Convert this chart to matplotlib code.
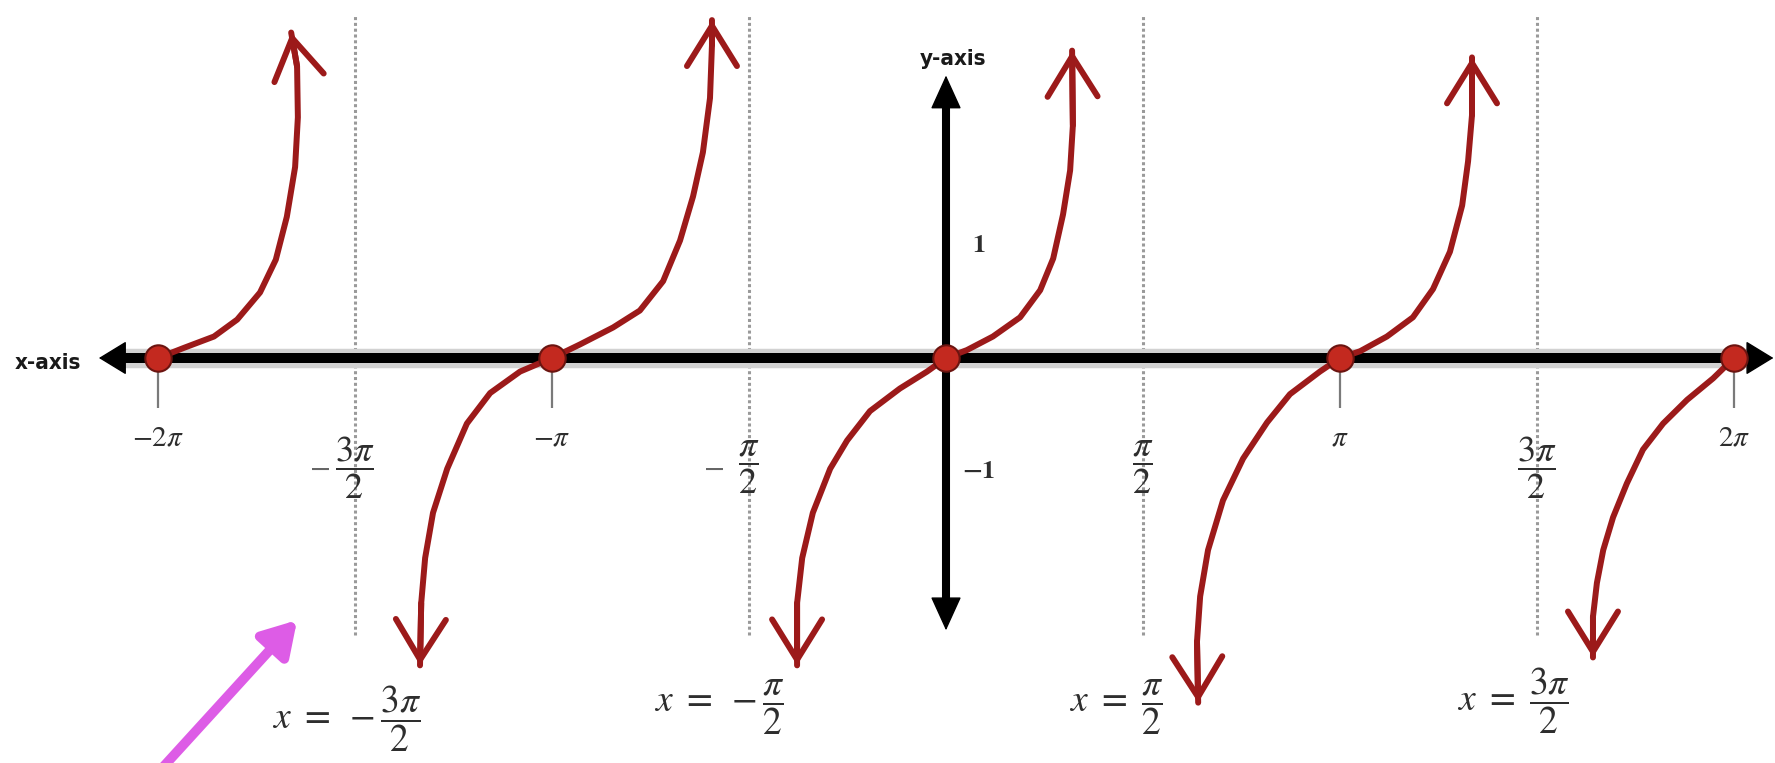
"""Graph of y = tan(x) on [-2pi, 2pi] with vertical asymptotes."""

import matplotlib

matplotlib.use("Agg")
import matplotlib.pyplot as plt
import numpy as np

plt.rcParams["mathtext.fontset"] = "stix"
plt.rcParams["font.family"] = ["Liberation Sans Narrow", "DejaVu Sans"]

# zeros of tan(x), x in multiples of pi
ZEROS_PI = [-2, -1, 0, 1, 2]
TICKS_PI = [-2, -1, 1, 2]
TICK_LABELS = [r"$-2\pi$", r"$-\pi$", r"$\pi$", r"$2\pi$"]
ASYMPTOTES_PI = [-1.5, -0.5, 0.5, 1.5]
ASYMPTOTE_FRACTIONS = [r"$\dfrac{3\pi}{2}$", r"$\dfrac{\pi}{2}$", r"$\dfrac{\pi}{2}$", r"$\dfrac{3\pi}{2}$"]
EQUATION_LABELS = [
    r"$x\ =\ -\dfrac{3\pi}{2}$",
    r"$x\ =\ -\dfrac{\pi}{2}$",
    r"$x\ =\ \dfrac{\pi}{2}$",
    r"$x\ =\ \dfrac{3\pi}{2}$",
]
Y_TICKS = [1, -1]
Y_TICK_LABELS = [r"$\mathbf{1}$", r"$\mathbf{-1}$"]

# hand-drawn branches (x in multiples of pi)
A_UP_X = [-2.0, -1.934, -1.858, -1.799, -1.741, -1.701, -1.673, -1.652, -1.645, -1.647, -1.662]
A_UP_Y = [0.0, 0.09, 0.19, 0.34, 0.58, 0.87, 1.25, 1.69, 2.13, 2.58, 2.88]
B_UP_X = [-1.0, -0.929, -0.845, -0.777, -0.718, -0.675, -0.642, -0.617, -0.599, -0.594, -0.594]
B_UP_Y = [0.0, 0.12, 0.27, 0.42, 0.68, 1.04, 1.43, 1.82, 2.30, 2.77, 2.99]
B_DOWN_X = [-1.0, -1.081, -1.157, -1.216, -1.266, -1.302, -1.322, -1.332, -1.335]
B_DOWN_Y = [0.0, -0.12, -0.31, -0.58, -0.98, -1.37, -1.77, -2.17, -2.72]
C_UP_X = [0.0, 0.053, 0.119, 0.188, 0.239, 0.272, 0.297, 0.315, 0.322, 0.320]
C_UP_Y = [0.0, 0.07, 0.19, 0.36, 0.60, 0.88, 1.27, 1.66, 2.06, 2.72]
C_DOWN_X = [0.0, -0.048, -0.117, -0.193, -0.251, -0.294, -0.338, -0.365, -0.378, -0.378]
C_DOWN_Y = [0.0, -0.12, -0.27, -0.47, -0.73, -0.98, -1.37, -1.77, -2.17, -2.72]
D_UP_X = [1.0, 1.051, 1.119, 1.185, 1.236, 1.279, 1.310, 1.325, 1.335, 1.335]
D_UP_Y = [0.0, 0.06, 0.19, 0.36, 0.61, 0.94, 1.35, 1.74, 2.15, 2.66]
D_DOWN_X = [1.0, 0.949, 0.873, 0.815, 0.754, 0.703, 0.665, 0.645, 0.637, 0.640]
D_DOWN_Y = [0.0, -0.12, -0.32, -0.57, -0.89, -1.26, -1.70, -2.11, -2.51, -3.05]
E_DOWN_X = [2.0, 1.947, 1.881, 1.820, 1.769, 1.728, 1.693, 1.668, 1.652, 1.642, 1.642]
E_DOWN_Y = [0.0, -0.18, -0.37, -0.58, -0.81, -1.11, -1.41, -1.70, -1.99, -2.29, -2.65]

BRANCHES = [
    (A_UP_X, A_UP_Y),
    (B_UP_X, B_UP_Y),
    (B_DOWN_X, B_DOWN_Y),
    (C_UP_X, C_UP_Y),
    (C_DOWN_X, C_DOWN_Y),
    (D_UP_X, D_UP_Y),
    (D_DOWN_X, D_DOWN_Y),
    (E_DOWN_X, E_DOWN_Y),
]

CURVE_COLOR = "#9c1a1a"
TEXT_COLOR = "#2e2e2e"
PI = np.pi

fig = plt.figure(figsize=(17.75, 7.63), dpi=100)
ax = fig.add_axes([0, 0, 1, 1])
ax.set_xlim(-2.401 * PI, 2.104 * PI)
ax.set_ylim(-3.584, 3.168)
ax.axis("off")

px_x = (2.104 + 2.401) * PI / 1775  # data units per pixel
px_y = (3.168 + 3.584) / 763

# asymptotes
ax.vlines(np.array(ASYMPTOTES_PI) * PI, -2.45, 3.04, colors="#9a9a9a",
          linestyles=(0, (1.0, 0.9)), lw=2.2, zorder=1)

# x-axis
x_left, x_right = -2.15 * PI, 2.10 * PI
head_x = 25 * px_x
ax.plot([x_left + head_x * 0.8, x_right - head_x * 0.8], [0, 0], color="#d2d2d2", lw=14, zorder=2,
        solid_capstyle="butt")
ax.plot([x_left + head_x * 0.8, x_right - head_x * 0.8], [0, 0], color="black", lw=7.2, zorder=3,
        solid_capstyle="butt")
for tip, base in [(x_right, x_right - head_x), (x_left, x_left + head_x)]:
    ax.annotate("", xy=(tip, 0), xytext=(base, 0),
                arrowprops=dict(arrowstyle="-|>,head_length=0.9,head_width=0.55", mutation_scale=20,
                                color="black", lw=1, shrinkA=0, shrinkB=0), zorder=3)

# y-axis
y_bottom, y_top = -2.41, 2.50
head_y = 31 * px_y
ax.plot([0, 0], [y_bottom + head_y * 0.8, y_top - head_y * 0.8], color="black", lw=5.8, zorder=3,
        solid_capstyle="butt")
for tip, base in [(y_top, y_top - head_y), (y_bottom, y_bottom + head_y)]:
    ax.annotate("", xy=(0, tip), xytext=(0, base),
                arrowprops=dict(arrowstyle="-|>,head_length=1.1,head_width=0.5", mutation_scale=20,
                                color="black", lw=1, shrinkA=0, shrinkB=0), zorder=3)

# ticks under the zeros
ax.vlines(np.array(TICKS_PI) * PI, -0.44, 0, colors="#7a7a7a", lw=1.6, zorder=2)

# tan branches
for bx, by in BRANCHES:
    xs = np.array(bx) * PI
    ys = np.array(by)
    ax.plot(xs, ys, color=CURVE_COLOR, lw=4.3, solid_joinstyle="round", solid_capstyle="round", zorder=4)
    ax.annotate("", xy=(xs[-1], ys[-1]), xytext=(xs[-2], ys[-2]),
                arrowprops=dict(arrowstyle="->,head_length=1.45,head_width=0.9", mutation_scale=20,
                                color=CURVE_COLOR, lw=4.3, shrinkA=0, shrinkB=0,
                                joinstyle="miter", capstyle="round"), zorder=4)

ax.plot(np.array(ZEROS_PI) * PI, np.zeros(len(ZEROS_PI)), "o", ms=19, mfc="#c3291f", mec="#6b1410",
        mew=1.5, zorder=6)

# labels
for xp, lab in zip(TICKS_PI, TICK_LABELS):
    ax.text(xp * PI, -0.70, lab, ha="center", va="center", fontsize=21, color=TEXT_COLOR, zorder=7)

for xp, frac in zip(ASYMPTOTES_PI, ASYMPTOTE_FRACTIONS):
    ax.text(xp * PI, -0.97, frac, ha="center", va="center", fontsize=26, color=TEXT_COLOR, zorder=7)
    if xp < 0:
        ax.text(xp * PI - 0.09 * PI, -0.97, r"$-$", ha="center", va="center", fontsize=22,
                color="#666666", zorder=7)

for yv, lab in zip(Y_TICKS, Y_TICK_LABELS):
    ax.text(0.082 * PI, yv * 1.0, lab, ha="center", va="center", fontsize=19, color=TEXT_COLOR, zorder=7)

ax.text(0.018 * PI, 2.65, "y-axis", ha="center", va="center", fontsize=16, color="#1a1a1a",
        fontweight="bold", fontstretch="condensed")
ax.text(-2.279 * PI, -0.04, "x-axis", ha="center", va="center", fontsize=16, color="#1a1a1a",
        fontweight="bold", fontstretch="condensed")

EQUATION_RIGHT_PI = [-1.332, -0.409, 0.551, 1.584]
EQUATION_Y = [-3.19, -3.09, -3.09, -3.03]
for xr, yv, lab in zip(EQUATION_RIGHT_PI, EQUATION_Y, EQUATION_LABELS):
    ax.text(xr * PI, yv, lab, ha="right", va="center", fontsize=27, color=TEXT_COLOR, zorder=7)

# pointer arrow at the bottom left
ax.annotate("", xy=(-1.647 * PI, -2.32), xytext=(-1.995 * PI, -3.65),
            arrowprops=dict(arrowstyle="-|>,head_length=1.0,head_width=0.6", mutation_scale=20,
                            color="#dd5ce6", lw=7, shrinkA=0, shrinkB=0), zorder=5)

fig.savefig("out.png", dpi=100, facecolor="white")
